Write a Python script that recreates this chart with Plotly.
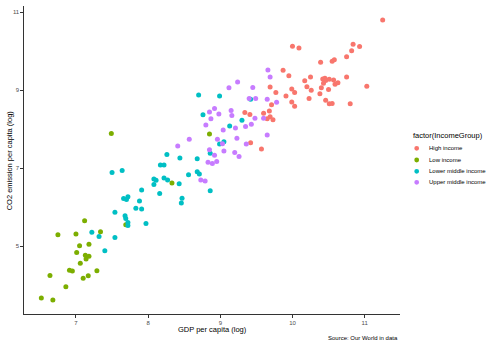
import plotly.graph_objects as go

# ---- data (log GDP per capita, log CO2 emission per capita) ----
groups = ["High income", "Low income", "Lower middle income", "Upper middle income"]
colors = ["#F8766D", "#7CAE00", "#00BFC4", "#C77CFF"]

high_x = [11.25, 10.00, 10.09, 10.84, 10.93, 10.82, 10.75, 10.39, 10.55, 10.58,
          9.87, 9.95, 10.25, 10.17, 10.42, 10.45, 10.46, 10.51, 10.57, 10.43,
          10.59, 10.63, 10.75, 10.20, 9.99, 10.40, 10.50, 10.26, 11.03, 10.03,
          9.91, 10.38, 10.23, 9.99, 10.46, 10.51, 10.55, 10.80, 10.03, 9.69,
          9.77, 9.71, 9.34, 9.41, 9.68, 9.60, 9.69, 9.65, 9.73, 9.42, 9.57]
high_y = [10.80, 10.13, 10.08, 10.18, 10.12, 10.01, 9.86, 9.72, 9.74, 9.78,
          9.51, 9.37, 9.34, 9.24, 9.29, 9.31, 9.25, 9.28, 9.26, 9.18,
          9.15, 9.19, 9.34, 9.09, 9.03, 9.06, 9.02, 9.00, 9.10, 8.94,
          8.85, 8.91, 8.79, 8.70, 8.74, 8.65, 8.66, 8.65, 8.59, 9.08,
          8.94, 8.63, 8.43, 8.38, 8.47, 8.41, 8.32, 8.27, 8.24, 7.65, 7.49]

low_x = [7.49, 8.85, 8.33, 7.12, 7.69, 6.75, 7.00, 7.34, 7.05, 7.18, 7.01, 7.13,
         7.18, 7.14, 7.06, 6.91, 6.95, 7.29, 6.64, 7.10, 7.17, 6.86, 6.52, 6.68]
low_y = [7.89, 7.88, 6.62, 5.65, 5.55, 5.29, 5.31, 5.37, 5.01, 5.05, 4.84, 4.77,
         4.74, 4.67, 4.56, 4.38, 4.36, 4.37, 4.25, 4.18, 4.24, 3.96, 3.67, 3.62]

lmid_x = [8.70, 8.99, 9.42, 8.76, 9.30, 9.13, 9.05, 8.99, 8.86, 8.26,
          8.44, 8.68, 8.17, 8.22, 7.50, 7.64, 8.68, 8.71, 8.56, 8.08,
          8.11, 8.22, 8.27, 8.08, 8.43, 7.91, 8.16, 8.86, 7.72, 7.66,
          7.70, 7.88, 8.47, 8.46, 7.83, 7.91, 7.54, 7.68, 7.69, 7.72,
          7.72, 7.97, 7.22, 7.32, 7.54, 7.40]
lmid_y = [8.88, 8.85, 8.77, 8.37, 8.23, 8.08, 7.68, 7.62, 7.38, 7.35,
          7.26, 7.24, 7.08, 7.08, 6.89, 6.94, 6.91, 6.85, 6.83, 6.72,
          6.69, 6.75, 6.70, 6.58, 6.60, 6.44, 6.35, 6.42, 6.27, 6.22,
          6.20, 6.16, 6.23, 6.11, 5.97, 5.95, 5.87, 5.78, 5.71, 5.61,
          5.53, 5.58, 5.36, 5.25, 5.22, 4.88]

umid_x = [9.66, 9.69, 9.24, 9.12, 9.45, 9.40, 9.49, 9.65, 9.78, 8.92,
          8.85, 8.98, 9.15, 9.16, 9.60, 9.48, 8.87, 9.43, 9.35, 8.80,
          9.21, 9.04, 9.65, 8.57, 8.96, 9.23, 9.03, 9.36, 8.41, 8.85,
          9.05, 8.92, 9.20, 9.26, 8.95, 8.83, 8.89, 8.73, 8.79]
umid_y = [9.52, 9.34, 9.21, 9.06, 9.07, 8.79, 8.79, 8.77, 8.69, 8.53,
          8.44, 8.39, 8.48, 8.35, 8.28, 8.28, 8.27, 8.13, 8.07, 8.11,
          8.03, 7.98, 7.85, 7.74, 7.74, 7.77, 7.63, 7.62, 7.57, 7.47,
          7.44, 7.33, 7.40, 7.30, 7.17, 7.15, 7.12, 6.70, 6.67]

x_ticks = [7, 8, 9, 10, 11]
y_ticks = [5, 7, 9, 11]

FONT = "Liberation Sans, Arial, Helvetica, sans-serif"

fig = go.Figure()
series = [(high_x, high_y), (low_x, low_y), (lmid_x, lmid_y), (umid_x, umid_y)]
for name, col, (xs, ys) in zip(groups, colors, series):
    fig.add_trace(go.Scatter(x=xs, y=ys, mode="markers", name=name,
                             marker=dict(color=col, size=5, line=dict(width=0)),
                             showlegend=False))

axis_common = dict(showgrid=False, zeroline=False, showline=True,
                   linecolor="#333333", linewidth=1.3, ticks="outside",
                   ticklen=2.5, tickwidth=1, tickcolor="#333333",
                   tickfont=dict(family=FONT, size=6, color="#4D4D4D"))

fig.update_xaxes(range=[6.28, 11.49], tickvals=x_ticks,
                 ticktext=[str(v) for v in x_ticks], **axis_common)
fig.update_yaxes(range=[3.26, 11.16], tickvals=y_ticks,
                 ticktext=[str(v) for v in y_ticks], **axis_common)

annotations = [
    dict(text="GDP per capita (log)", x=0.5, y=-0.051, xref="paper", yref="paper",
         xanchor="center", yanchor="middle", showarrow=False,
         font=dict(family=FONT, size=7.5, color="black")),
    dict(text="CO2 emission per capita (log)", x=-0.039, y=0.5, xref="paper",
         yref="paper", xanchor="center", yanchor="middle", textangle=-90,
         showarrow=False, font=dict(family=FONT, size=7.5, color="black")),
    dict(text="Source: Our World in data", x=1.0, y=-0.078, xref="paper",
         yref="paper", xanchor="right", yanchor="middle", showarrow=False,
         font=dict(family=FONT, size=6, color="black")),
    dict(text="factor(IncomeGroup)", x=1.029, y=0.581, xref="paper", yref="paper",
         xanchor="left", yanchor="middle", showarrow=False,
         font=dict(family=FONT, size=7.5, color="black")),
]

shapes = []
legend_y = [0.538, 0.500, 0.4633, 0.4276]
for name, col, ly in zip(groups, colors, legend_y):
    shapes.append(dict(type="circle", xref="paper", yref="paper",
                       xsizemode="pixel", ysizemode="pixel",
                       xanchor=1.0444, yanchor=ly, x0=-2.4, x1=2.4, y0=-2.4, y1=2.4,
                       fillcolor=col, line=dict(width=0)))
    annotations.append(dict(text=name, x=1.071, y=ly, xref="paper", yref="paper",
                            xanchor="left", yanchor="middle", showarrow=False,
                            font=dict(family=FONT, size=6, color="black")))

fig.update_layout(width=489, height=342,
                  margin=dict(l=24, r=89, t=6, b=28, pad=0),
                  paper_bgcolor="white", plot_bgcolor="white",
                  annotations=annotations, shapes=shapes,
                  font=dict(family=FONT))

fig.write_html("out.html")
